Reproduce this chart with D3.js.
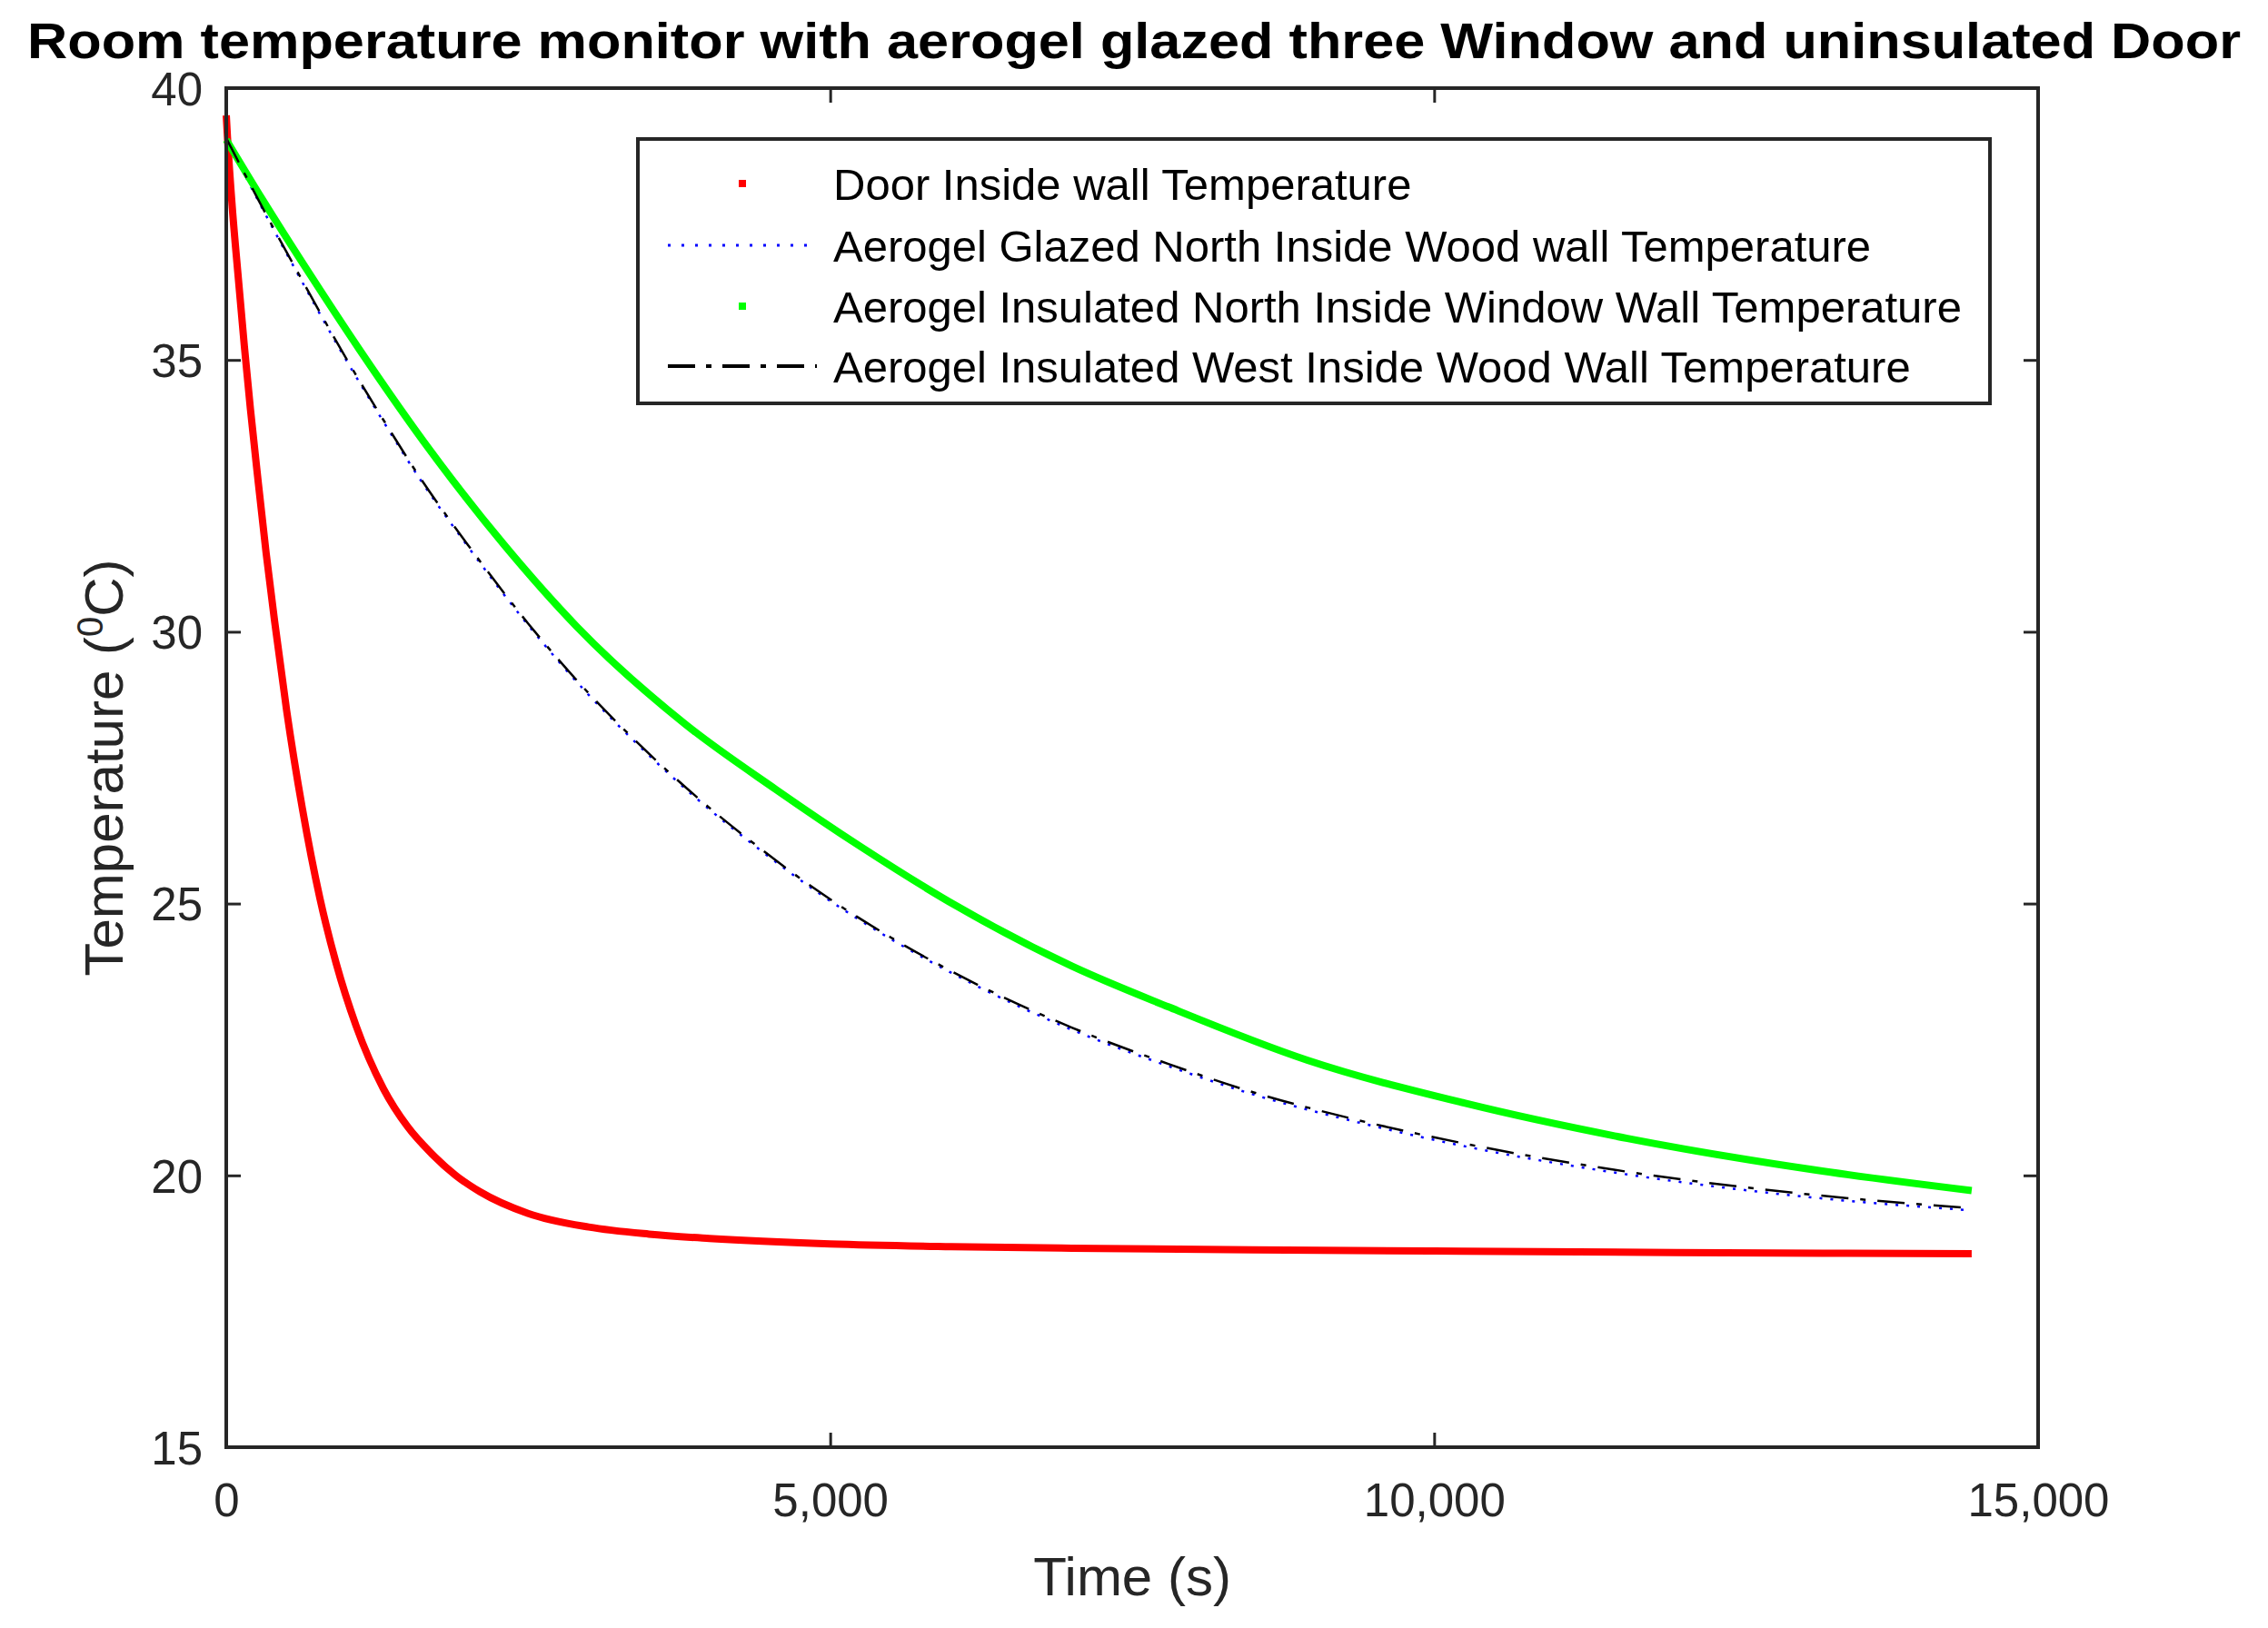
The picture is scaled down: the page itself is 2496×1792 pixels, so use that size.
<!DOCTYPE html>
<html>
<head>
<meta charset="utf-8">
<script src="https://cdn.jsdelivr.net/npm/d3@7"></script>
<style>
  html, body { margin: 0; padding: 0; background: #fff; }
  svg { display: block; }
  text { font-family: "Liberation Sans", Arial, sans-serif; }
</style>
</head>
<body>
<svg id="chart" width="2496" height="1792"></svg>
<script>
// ---------------- data ----------------
const titleText = "Room temperature monitor with aerogel glazed three Window and uninsulated Door";
const xLabel = "Time (s)";
const yLabel = "Temperature (";
const xTicks = [0, 5000, 10000, 15000];
const yTicks = [15, 20, 25, 30, 35, 40];

const seriesNames = [
  "Door Inside wall Temperature",
  "Aerogel Glazed North Inside Wood wall Temperature",
  "Aerogel Insulated North Inside Window Wall Temperature",
  "Aerogel Insulated West Inside Wood Wall Temperature"
];

// Door inside wall (red dots)
const doorTime = [0, 10, 50, 100, 150, 200, 260, 330, 400, 500, 630, 775, 910, 1075, 1300, 1500, 1700, 1900, 2100, 2500, 3000, 3500, 4000, 5000, 6000, 7000, 8500, 10000, 12000, 14450];
const doorTemp = [39.5, 39.1, 37.8, 36.5, 35.25, 34.1, 32.85, 31.45, 30.2, 28.55, 26.75, 25.1, 23.9, 22.75, 21.6, 20.9, 20.4, 20.0, 19.7, 19.3, 19.05, 18.92, 18.84, 18.74, 18.69, 18.66, 18.63, 18.61, 18.58, 18.56];

// Aerogel glazed north inside wood wall (blue dotted)
const glazedTime = [0, 300, 600, 1000, 1300, 1600, 2000, 2500, 3000, 3400, 3900, 4400, 4900, 5500, 6200, 7000, 7800, 8500, 9400, 10400, 11500, 13150, 14430];
const glazedTemp = [39.08, 37.78, 36.55, 34.97, 33.87, 32.82, 31.57, 30.12, 28.84, 27.94, 26.92, 26.02, 25.2, 24.35, 23.5, 22.68, 22.01, 21.49, 20.96, 20.47, 20.05, 19.59, 19.36];

// Aerogel insulated north inside window wall (green dots)
const windowTime = [0, 300, 700, 1100, 1700, 2300, 2900, 3800, 4550, 5250, 6050, 7000, 7800, 8950, 10250, 11600, 13150, 14450];
const windowTemp = [39.05, 37.95, 36.55, 35.2, 33.3, 31.6, 30.1, 28.3, 27.1, 26.05, 24.95, 23.85, 23.1, 22.12, 21.33, 20.68, 20.1, 19.72];

// Aerogel insulated west inside wood wall (black dash-dot)
const westTime = [0, 300, 600, 1000, 1300, 1600, 2000, 2500, 3000, 3400, 3900, 4400, 4900, 5500, 6200, 7000, 7800, 8500, 9400, 10400, 11500, 13150, 14430];
const westTemp = [39.08, 37.8, 36.58, 35.0, 33.9, 32.85, 31.6, 30.15, 28.87, 27.97, 26.95, 26.05, 25.23, 24.38, 23.53, 22.72, 22.05, 21.53, 21.0, 20.52, 20.1, 19.64, 19.4];

// ---------------- chart ----------------
const svg = d3.select("#chart");
const axisColor = "#262626";

const x = d3.scaleLinear().domain([0, 15000]).range([249, 2243]);
const y = d3.scaleLinear().domain([15, 40]).range([1593, 97]);

const zip = (ts, vs) => ts.map((t, i) => ({ t: t, v: vs[i] }));
const series = [
  { name: seriesNames[0], data: zip(doorTime, doorTemp), color: "#ff0000", width: 8, dash: null, kind: "dot" },
  { name: seriesNames[1], data: zip(glazedTime, glazedTemp), color: "#0000ff", width: 2.5, dash: "3,9", kind: "dotted" },
  { name: seriesNames[2], data: zip(windowTime, windowTemp), color: "#00ff00", width: 8, dash: null, kind: "dot" },
  { name: seriesNames[3], data: zip(westTime, westTemp), color: "#000000", width: 2.5, dash: "30,13,6,13", kind: "dashdot" }
];

const line = d3.line()
  .x(d => x(d.t))
  .y(d => y(d.v))
  .curve(d3.curveMonotoneX);

// Title
svg.append("text")
  .attr("x", 1248)
  .attr("y", 64)
  .attr("text-anchor", "middle")
  .attr("font-size", 55)
  .attr("font-weight", "bold")
  .attr("fill", "#000")
  .attr("textLength", 2436)
  .attr("lengthAdjust", "spacingAndGlyphs")
  .text(titleText);

// Curves
const plot = svg.append("g");
series.forEach(s => {
  plot.append("path")
    .datum(s.data)
    .attr("fill", "none")
    .attr("stroke", s.color)
    .attr("stroke-width", s.width)
    .attr("stroke-linejoin", "round")
    .attr("stroke-dasharray", s.dash)
    .attr("d", line);
});

// Axes (ticks inward on all four sides)
const tickLen = 16;
const fmt = d3.format(",");

const gx = svg.append("g")
  .attr("transform", `translate(0,${y.range()[0]})`)
  .call(d3.axisBottom(x).tickValues(xTicks).tickFormat(fmt).tickSizeInner(-tickLen).tickSizeOuter(0).tickPadding(40));
const gxTop = svg.append("g")
  .attr("transform", `translate(0,${y.range()[1]})`)
  .call(d3.axisTop(x).tickValues(xTicks).tickFormat("").tickSizeInner(-tickLen).tickSizeOuter(0));
const gy = svg.append("g")
  .attr("transform", `translate(${x.range()[0]},0)`)
  .call(d3.axisLeft(y).tickValues(yTicks).tickSizeInner(-tickLen).tickSizeOuter(0).tickPadding(26));
const gyRight = svg.append("g")
  .attr("transform", `translate(${x.range()[1]},0)`)
  .call(d3.axisRight(y).tickValues(yTicks).tickFormat("").tickSizeInner(-tickLen).tickSizeOuter(0));

[gx, gxTop, gy, gyRight].forEach(g => {
  g.select(".domain").remove();
  g.selectAll(".tick line").attr("stroke", axisColor).attr("stroke-width", 3);
  g.selectAll(".tick text")
    .attr("fill", axisColor)
    .attr("font-size", 51)
    .attr("font-family", "'Liberation Sans', Arial, sans-serif");
});
gy.selectAll(".tick text").attr("dy", "0.36em");

// Box
svg.append("rect")
  .attr("x", x.range()[0])
  .attr("y", y.range()[1])
  .attr("width", x.range()[1] - x.range()[0])
  .attr("height", y.range()[0] - y.range()[1])
  .attr("fill", "none")
  .attr("stroke", axisColor)
  .attr("stroke-width", 4);

// Axis labels
svg.append("text")
  .attr("x", (x.range()[0] + x.range()[1]) / 2)
  .attr("y", 1756)
  .attr("text-anchor", "middle")
  .attr("font-size", 60)
  .attr("fill", axisColor)
  .text(xLabel);

const yl = svg.append("text")
  .attr("transform", `translate(113,${(y.range()[0] + y.range()[1]) / 2}) rotate(-90)`)
  .attr("text-anchor", "middle")
  .attr("dy", "0.36em")
  .attr("font-size", 60)
  .attr("fill", axisColor);
yl.append("tspan").text(yLabel);
yl.append("tspan").attr("font-size", 40).attr("dy", "-0.55em").text("0");
yl.append("tspan").attr("dy", "0.37em").text("C)");

// Legend
const leg = svg.append("g");
leg.append("rect")
  .attr("x", 702).attr("y", 153)
  .attr("width", 1488).attr("height", 291)
  .attr("fill", "#fff")
  .attr("stroke", axisColor)
  .attr("stroke-width", 4);

const rowY = [202, 270, 337, 403];
series.forEach((s, i) => {
  const ry = rowY[i];
  if (s.kind === "dot") {
    leg.append("rect")
      .attr("x", 813).attr("y", ry - 4)
      .attr("width", 8).attr("height", 8)
      .attr("fill", s.color);
  } else {
    leg.append("line")
      .attr("x1", 735).attr("x2", 899)
      .attr("y1", ry).attr("y2", ry)
      .attr("stroke", s.color)
      .attr("stroke-width", s.kind === "dashdot" ? 4 : 3)
      .attr("stroke-dasharray", s.kind === "dashdot" ? "30,12,6,12" : "3,12");
  }
  leg.append("text")
    .attr("x", 917)
    .attr("y", ry)
    .attr("dy", "0.36em")
    .attr("font-size", 49)
    .attr("fill", "#000")
    .text(s.name);
});
</script>
</body>
</html>
